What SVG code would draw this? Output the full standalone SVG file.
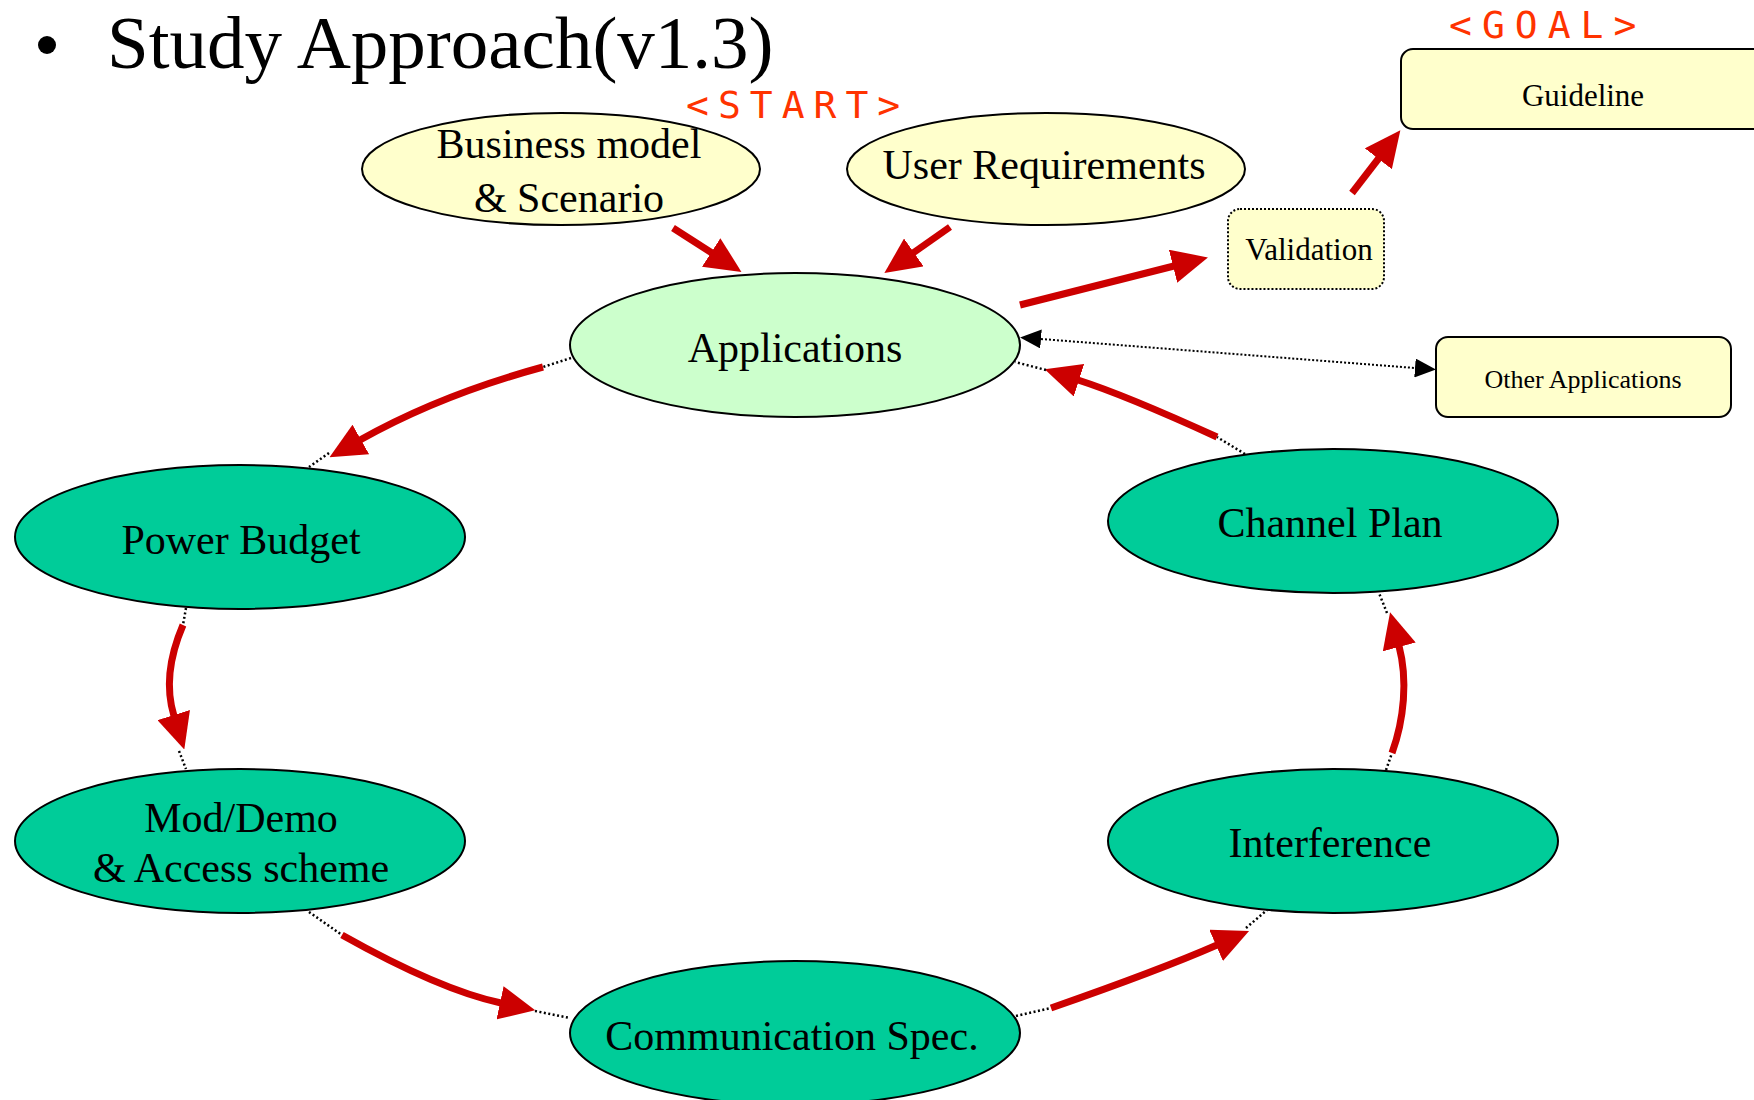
<svg xmlns="http://www.w3.org/2000/svg" width="1754" height="1100" viewBox="0 0 1754 1100">
<defs>
<style>
.lbl{font-family:"Liberation Serif","Times New Roman",serif;font-size:42px;fill:#000;text-anchor:middle}
.box{font-family:"Liberation Serif","Times New Roman",serif;fill:#000;text-anchor:middle}
.tag{font-family:"DejaVu Sans Mono","Liberation Mono",monospace;font-size:38px;fill:#ff3300}
.yel{fill:#ffffcc;stroke:#000;stroke-width:2}
.grn{fill:#00cc99;stroke:#000;stroke-width:2}
.lgrn{fill:#ccffcc;stroke:#000;stroke-width:2}
.red{fill:none;stroke:#cc0000;stroke-width:7;marker-end:url(#rh)}
.dot{fill:none;stroke:#000;stroke-width:2.5;stroke-dasharray:2 2.5}
.dotthin{fill:none;stroke:#000;stroke-width:2;stroke-dasharray:2 2}
</style>
<marker id="rh" viewBox="0 0 36 34" markerWidth="36" markerHeight="34" markerUnits="userSpaceOnUse" refX="1" refY="17" orient="auto">
<path d="M0,0 L36,17 L0,34 z" fill="#cc0000"/>
</marker>
<marker id="bh" viewBox="0 0 21 19" markerWidth="21" markerHeight="19" markerUnits="userSpaceOnUse" refX="0" refY="9.5" orient="auto-start-reverse">
<path d="M0,0 L21,9.5 L0,19 z" fill="#000"/>
</marker>
</defs>
<rect width="1754" height="1100" fill="#fff"/>

<g id="title">
<circle cx="47" cy="45" r="9" fill="#000"/>
<text x="107" y="68" font-family="Liberation Serif,Times New Roman,serif" font-size="75">Study Approach(v1.3)</text>
</g>
<g id="start-tag"><text class="tag" x="686" y="118" letter-spacing="9">&lt;START&gt;</text></g>
<g id="goal-tag"><text class="tag" x="1449" y="38" letter-spacing="10">&lt;GOAL&gt;</text></g>

<g id="connectors">
<path class="red" d="M673,228 L712,253"/>
<path class="red" d="M950,227 L913,253"/>
<path class="red" d="M1020,305 L1174,266"/>
<path class="red" d="M1352,193 L1379,158"/>
<path class="dotthin" d="M1041,339 L1415,368" marker-start="url(#bh)" marker-end="url(#bh)"/>

<path class="dot" d="M571,358 L543,367"/>
<path class="red" d="M543,367 Q440,395 360,440"/>
<path class="dot" d="M329,453 L309,467"/>

<path class="dot" d="M186,608 L183,625"/>
<path class="red" d="M183,625 C168,660 166,690 174,716"/>
<path class="dot" d="M179,751 L186,769"/>

<path class="dot" d="M309,912 L342,935"/>
<path class="red" d="M342,935 Q440,990 501,1003"/>
<path class="dot" d="M535,1011 L570,1018"/>

<path class="dot" d="M1016,1016 L1051,1008"/>
<path class="red" d="M1051,1008 Q1160,970 1217,945"/>
<path class="dot" d="M1246,928 L1267,910"/>

<path class="dot" d="M1386,770 L1392,753"/>
<path class="red" d="M1392,753 C1404,720 1408,680 1399,646"/>
<path class="dot" d="M1387,613 L1379,593"/>

<path class="dot" d="M1245,454 L1217,437"/>
<path class="red" d="M1217,437 Q1125,395 1078,380"/>
<path class="dot" d="M1046,370 L1015,362"/>
</g>

<g id="business">
<ellipse class="yel" cx="561" cy="169" rx="199" ry="56"/>
<text class="lbl" x="569" y="158">Business model</text>
<text class="lbl" x="569" y="212">&amp; Scenario</text>
</g>
<g id="userreq">
<ellipse class="yel" cx="1046" cy="169" rx="199" ry="56"/>
<text class="lbl" x="1044" y="179">User Requirements</text>
</g>
<g id="applications">
<ellipse class="lgrn" cx="795" cy="345" rx="225" ry="72"/>
<text class="lbl" x="795" y="362">Applications</text>
</g>
<g id="validation">
<rect x="1228" y="209" width="156" height="80" rx="12" fill="#ffffcc" stroke="#000" stroke-width="2" stroke-dasharray="2 2"/>
<text class="box" x="1309" y="260" font-size="31">Validation</text>
</g>
<g id="guideline">
<rect class="yel" x="1401" y="49" width="370" height="80" rx="12"/>
<text class="box" x="1583" y="106" font-size="31">Guideline</text>
</g>
<g id="otherapps">
<rect class="yel" x="1436" y="337" width="295" height="80" rx="12"/>
<text class="box" x="1583" y="388" font-size="26">Other Applications</text>
</g>
<g id="powerbudget">
<ellipse class="grn" cx="240" cy="537" rx="225" ry="72"/>
<text class="lbl" x="241" y="554">Power Budget</text>
</g>
<g id="moddemo">
<ellipse class="grn" cx="240" cy="841" rx="225" ry="72"/>
<text class="lbl" x="241" y="832">Mod/Demo</text>
<text class="lbl" x="241" y="882">&amp; Access scheme</text>
</g>
<g id="commspec">
<ellipse class="grn" cx="795" cy="1033" rx="225" ry="72"/>
<text class="lbl" x="792" y="1050">Communication Spec.</text>
</g>
<g id="interference">
<ellipse class="grn" cx="1333" cy="841" rx="225" ry="72"/>
<text class="lbl" x="1330" y="857">Interference</text>
</g>
<g id="channelplan">
<ellipse class="grn" cx="1333" cy="521" rx="225" ry="72"/>
<text class="lbl" x="1330" y="537">Channel Plan</text>
</g>
</svg>
